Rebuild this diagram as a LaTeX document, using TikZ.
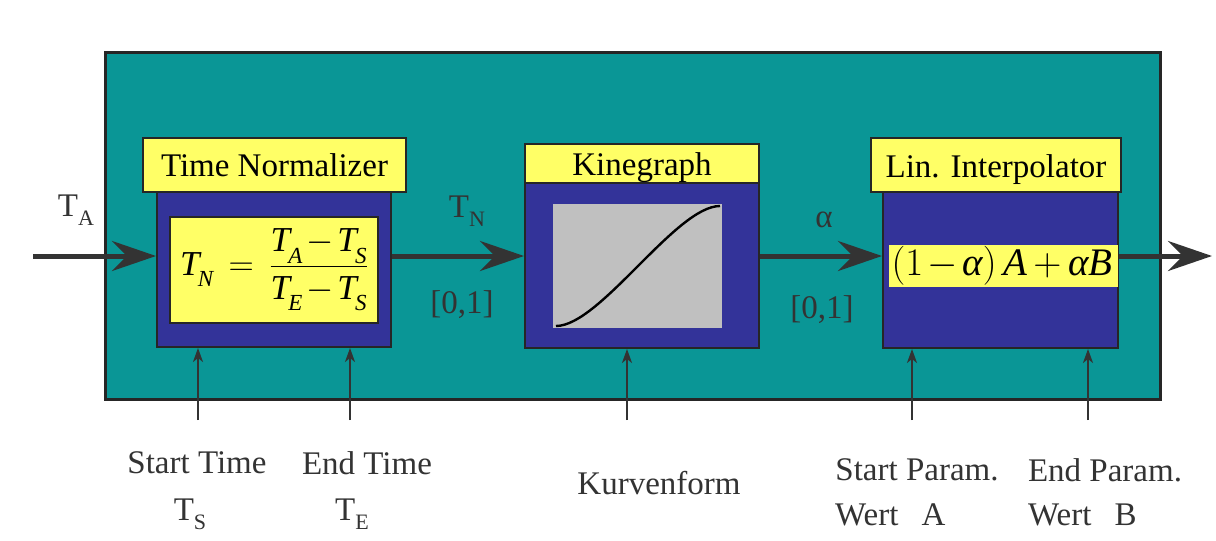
\RequirePackage{fix-cm}
\documentclass[tikz,border=0pt]{standalone}
\usepackage{amsmath}
\usepackage{fontspec}
\setmainfont{Liberation Serif}
\usetikzlibrary{arrows.meta}
\definecolor{tealbg}{HTML}{0A9696}
\definecolor{blu}{HTML}{333399}
\definecolor{yel}{HTML}{FFFF66}
\definecolor{gry}{HTML}{C0C0C0}
\definecolor{ink}{HTML}{333333}
\newcommand{\lowsub}[2]{#1\raisebox{-0.28em}{\fontsize{22}{22}\selectfont #2}}
\newcommand{\itsub}[2]{\mbox{\itshape #1\kern-0.05em\raisebox{-0.32em}{\fontsize{23}{23}\selectfont #2}}}
\tikzset{
  bx/.style={draw=black!85, line width=2pt, inner sep=0pt, anchor=center},
  titlebox/.style={bx, fill=yel},
  ttl/.style={inner sep=0pt, anchor=base, text=black},
  bodybox/.style={bx, fill=blu},
  big/.style={line width=5pt, draw=ink, -{Stealth[length=44pt,width=30pt,inset=15pt]}},
  small/.style={line width=2pt, draw=ink, -{Stealth[length=14pt,width=10pt,inset=4pt]}},
  lbl/.style={text=ink, inner sep=0pt, anchor=center},
}
\begin{document}
\begin{tikzpicture}[x=1pt, y=-1pt, font=\fontsize{33}{38}\selectfont]
\useasboundingbox[fill=white] (0,0) rectangle (1216,541);
% outer frame
\node[bx, fill=tealbg, line width=3pt, minimum width=1055pt, minimum height=347pt] (outer) at (632.5,225.5) {};
% Time normalizer
\node[bodybox, minimum width=234pt, minimum height=155pt] (tnbody) at (274,269.5) {};
\node[titlebox, minimum width=263pt, minimum height=54pt] (tntitle) at (274.5,165) {};
\node[ttl] (tntext) at (274.5,176) {Time Normalizer};
\node[bx, fill=yel, minimum width=208pt, minimum height=106pt] (tnf) at (274,270) {};
\node[inner sep=0pt] (tnft) at (274,270)
  {\fontsize{35}{40}\selectfont$\itsub{T}{N}\,=\,\dfrac{\itsub{T}{A}\mkern-2mu-\mkern-2mu\itsub{T}{S}}{\itsub{T}{E}\mkern-2mu-\mkern-2mu\itsub{T}{S}}$};
% Kinegraph
\node[bodybox, minimum width=234pt, minimum height=165pt] (kgbody) at (642,265.5) {};
\node[titlebox, minimum width=234pt, minimum height=39pt] (kgtitle) at (642,163.5) {};
\node[ttl] (kgtext) at (642,175) {Kinegraph};
\node[fill=gry, inner sep=0pt, minimum width=169pt, minimum height=124pt] (kgplot) at (637.5,266) {};
\coordinate (c0) at (556,326);
\coordinate (c1) at (720,206);
\draw[line width=2.4pt, black] (c0) .. controls (600,326) and (676,206) .. (c1);
% Lin. Interpolator
\node[bodybox, minimum width=235pt, minimum height=156pt] (libody) at (1000.5,270) {};
\node[titlebox, minimum width=250pt, minimum height=54pt] (lititle) at (996,165) {};
\node[ttl] (litext) at (996,177) {Lin. Interpolator};
\node[fill=yel, inner sep=0pt, minimum width=229pt, minimum height=42pt] (lif) at (1003.5,266) {};
\node[inner sep=0pt] (lift) at (1002,266)
  {\fontsize{39}{42}\selectfont$(1\mkern-2mu-\mkern-2mu\textit{α})\,\textit{A}\mkern-1mu+\mkern-1mu\textit{αB}$};
% main arrows
\coordinate (in) at (33,256);
\coordinate (out) at (1212,256);
\draw[big] (in) -- (tnbody.west |- in);
\draw[big] (tnbody.east |- in) -- (kgbody.west |- in);
\draw[big] (kgbody.east |- in) -- (libody.west |- in);
\draw[big] (libody.east |- in) -- (out);
% labels on arrows
\node[lbl] (ta) at (76,210) {\lowsub{T}{A}};
\node[lbl] (tn) at (467,211) {\lowsub{T}{N}};
\node[lbl] (r1) at (462,305) {[0,1]};
\node[lbl] (al) at (824,220) {α};
\node[lbl] (r2) at (822,310) {[0,1]};
% bottom inputs
\coordinate (b1) at (198,420);
\coordinate (b2) at (350,420);
\coordinate (b3) at (627,420);
\coordinate (b4) at (912,420);
\coordinate (b5) at (1088,420);
\draw[small] (b1) -- (tnbody.south -| b1);
\draw[small] (b2) -- (tnbody.south -| b2);
\draw[small] (b3) -- (kgbody.south -| b3);
\draw[small] (b4) -- (libody.south -| b4);
\draw[small] (b5) -- (libody.south -| b5);
% bottom labels
\node[lbl] (st) at (197,463) {Start Time};
\node[lbl] (ts) at (190,514) {\lowsub{T}{S}};
\node[lbl] (et) at (367,463) {End Time};
\node[lbl] (te) at (352,514) {\lowsub{T}{E}};
\node[lbl] (kf) at (659,483) {Kurvenform};
\node[lbl] (sp) at (917,470) {Start Param.};
\node[lbl, anchor=west] (wa) at (835,515) {Wert\hspace{0.7em}A};
\node[lbl] (ep) at (1105,470) {End Param.};
\node[lbl, anchor=west] (wb) at (1028,515) {Wert\hspace{0.7em}B};
\end{tikzpicture}
\end{document}
